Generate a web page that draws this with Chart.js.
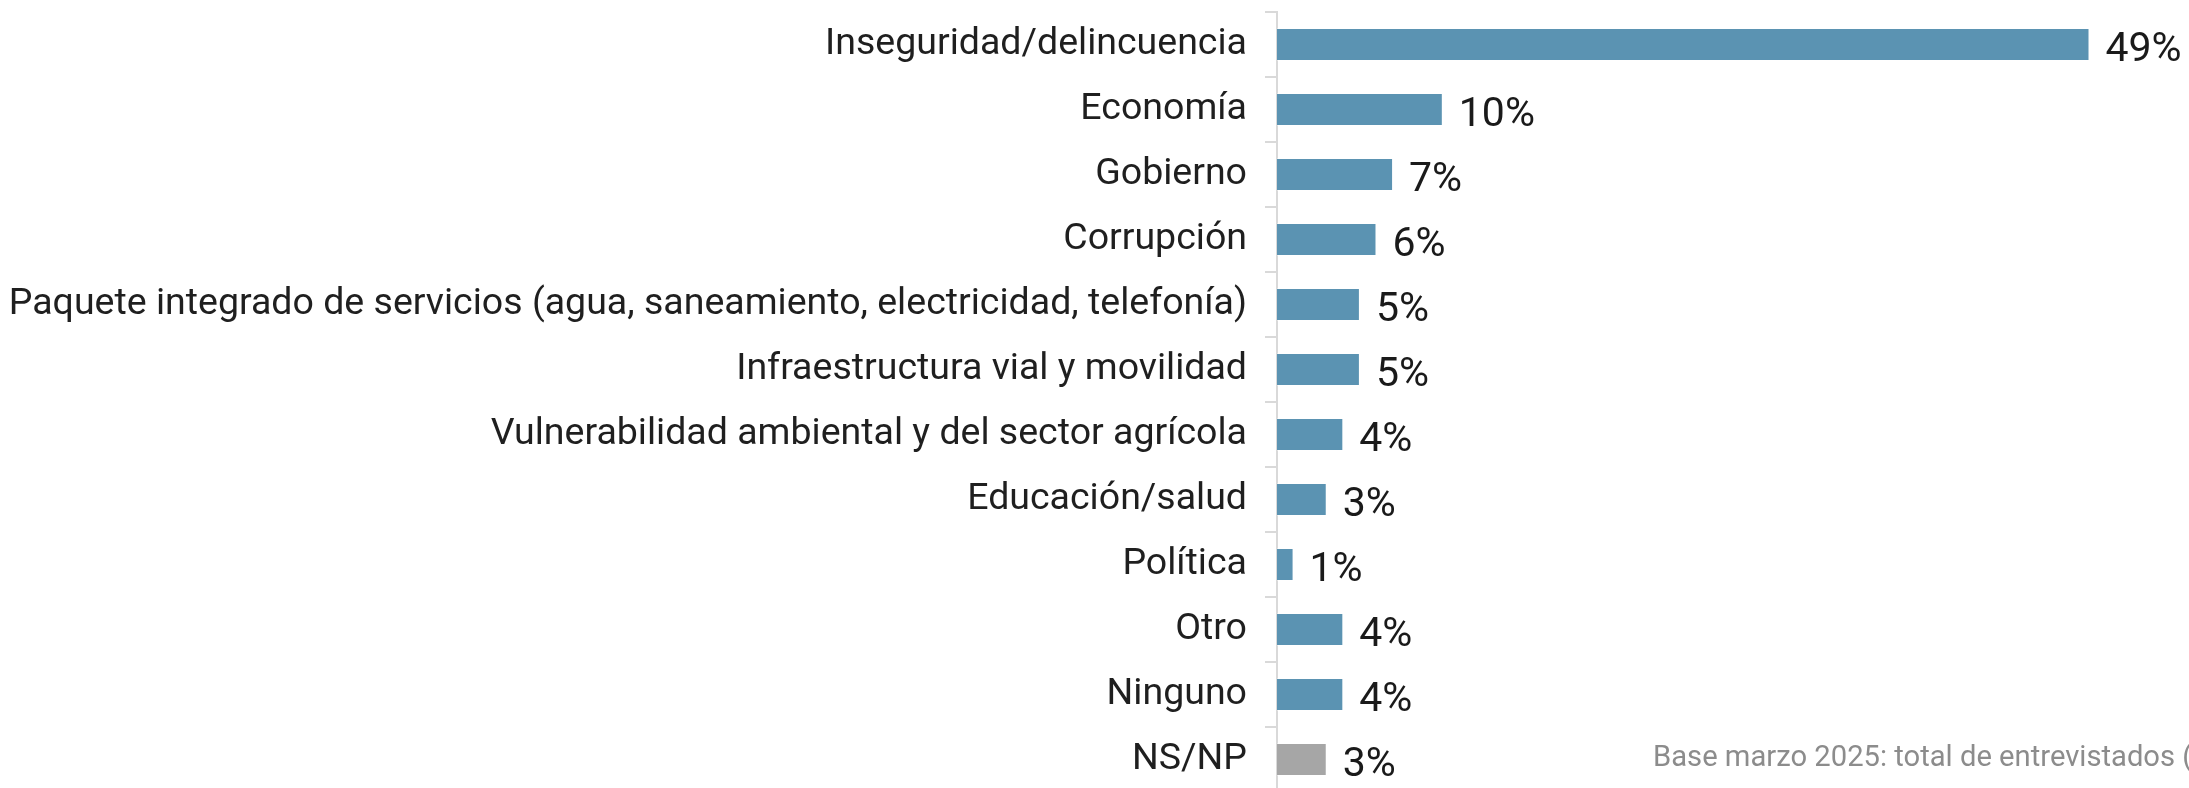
<!DOCTYPE html>
<html lang="es">
    <head>
        <meta charset="UTF-8" />
        <title>Problemas principales</title>
        <script src="https://cdn.jsdelivr.net/npm/chart.js"></script>
        <style>
            html, body { margin: 0; padding: 0; overflow: hidden; background: #fff; }
            #wrap { position: relative; width: 2189px; height: 792px; }
            #nota {
                position: absolute; left: 1653px; top: 739px;
                font: 29.2px Roboto, sans-serif; color: #8c8c8c; white-space: nowrap;
            }
        </style>
    </head>
    <body>
        <div id="wrap">
            <canvas id="myChart" width="2189" height="792"></canvas>
            <div id="nota">Base marzo 2025: total de entrevistados (</div>
        </div>

        <script>
            // categorías y porcentajes
            const categorias = [
                "Inseguridad/delincuencia",
                "Economía",
                "Gobierno",
                "Corrupción",
                "Paquete integrado de servicios (agua, saneamiento, electricidad, telefonía)",
                "Infraestructura vial y movilidad",
                "Vulnerabilidad ambiental y del sector agrícola",
                "Educación/salud",
                "Política",
                "Otro",
                "Ninguno",
                "NS/NP",
            ];
            const porcentajes = [49, 10, 7, 6, 5, 5, 4, 3, 1, 4, 4, 3];
            const colores = categorias.map((c) =>
                c === "NS/NP" ? "#a6a6a6" : "#5b93b2"
            );

            // etiquetas de valor al final de cada barra
            const etiquetasValor = {
                id: "etiquetasValor",
                afterDatasetsDraw(chart) {
                    const ctx = chart.ctx;
                    const meta = chart.getDatasetMeta(0);
                    ctx.save();
                    ctx.font = "41px Roboto";
                    ctx.fillStyle = "#1a1a1a";
                    ctx.textAlign = "left";
                    ctx.textBaseline = "alphabetic";
                    meta.data.forEach((bar, i) => {
                        ctx.fillText(porcentajes[i] + "%", bar.x + 16, bar.y + 16);
                    });
                    ctx.restore();
                },
            };

            var ctx = document.getElementById("myChart").getContext("2d");
            var myChart = new Chart(ctx, {
                type: "bar",
                data: {
                    labels: categorias,
                    datasets: [
                        {
                            data: porcentajes,
                            backgroundColor: colores,
                            borderColor: "rgba(255,255,255,0.35)",
                            borderWidth: 1,
                            barPercentage: 0.51,
                            categoryPercentage: 1,
                        },
                    ],
                },
                options: {
                    indexAxis: "y",
                    responsive: false,
                    animation: false,
                    layout: { padding: { top: 12, left: 0, right: 0, bottom: 0 } },
                    plugins: {
                        legend: { display: false },
                        tooltip: { enabled: false },
                    },
                    scales: {
                        x: {
                            display: false,
                            min: 0,
                            max: 55,
                        },
                        y: {
                            afterFit: (s) => {
                                s.width = 1277;
                                s.paddingTop = 0;
                                s.paddingBottom = 0;
                            },
                            grid: {
                                offset: true,
                                drawOnChartArea: false,
                                drawTicks: true,
                                tickLength: 12,
                                color: "#d9d9d9",
                                lineWidth: 2,
                            },
                            border: { display: true, color: "#d9d9d9", width: 2 },
                            ticks: {
                                padding: 18,
                                color: "#1f1f1f",
                                font: { family: "Roboto", size: 37.5 },
                            },
                        },
                    },
                },
                plugins: [etiquetasValor],
            });
        </script>
    </body>
</html>
